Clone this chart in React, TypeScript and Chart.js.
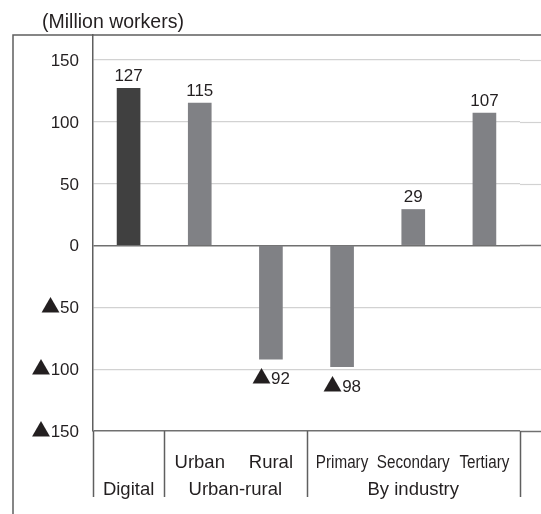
import React, { useEffect, useRef } from 'react';
import { Chart, registerables } from 'chart.js';

Chart.register(...registerables);

const categories = ['Digital', 'Urban', 'Rural', 'Primary', 'Secondary', 'Tertiary'];
const values = [127, 115, -92, -98, 29, 107];
const subLabels = ['', 'Urban', 'Rural', 'Primary', 'Secondary', 'Tertiary'];
const groupLabels = ['Digital', 'Urban-rural', 'By industry'];
const groupSizes = [1, 2, 3];
const yTickValues = [-150, -100, -50, 0, 50, 100, 150];
const yTickLabels = ['▲150', '▲100', '▲50', '0', '50', '100', '150'];
const unitLabel = '(Million workers)';

const FONT = '"Liberation Sans", Arial, Helvetica, sans-serif';
const TRI_FONT = '"Noto Sans CJK JP", "DejaVu Sans", sans-serif';
const TEXT = '#231f20';
const FRAME = '#5f5f5f';
const DARK_LINE = '#707070';
const LIGHT_LINE = '#d2d2d2';

const gridColor = (v: number) => (v === 0 || v === -150 ? DARK_LINE : LIGHT_LINE);
const gridWidth = (v: number) => (v === 0 || v === -150 ? 1.5 : 1.2);
const negLabel = (v: number) => (v < 0 ? '▲' + Math.abs(v) : String(v));

// draws text where the ▲ sign uses a larger full-width glyph
function drawMixed(ctx: CanvasRenderingContext2D, text: string, x: number, y: number, align: 'left' | 'center' | 'right', size: number) {
  const parts: { t: string; f: string }[] = [];
  for (const ch of text) {
    const f = ch === '▲' ? `${size * 1.12}px ${TRI_FONT}` : `${size}px ${FONT}`;
    const last = parts[parts.length - 1];
    if (last && last.f === f) last.t += ch;
    else parts.push({ t: ch, f });
  }
  let total = 0;
  const widths = parts.map((p) => {
    ctx.font = p.f;
    const w = ctx.measureText(p.t).width;
    total += w;
    return w;
  });
  let cx = align === 'left' ? x : align === 'center' ? x - total / 2 : x - total;
  ctx.textAlign = 'left';
  ctx.textBaseline = 'alphabetic';
  parts.forEach((p, i) => {
    ctx.font = p.f;
    ctx.fillText(p.t, cx, y);
    cx += widths[i];
  });
}

const customPlugin = {
  id: 'customDecor',
  beforeDatasetsDraw(chart: any) {
    const ctx = chart.ctx;
    const area = chart.chartArea;
    const ys = chart.scales.y;
    ctx.save();
    yTickValues.forEach((v) => {
      const py = Math.round(ys.getPixelForValue(v)) + 0.5;
      ctx.strokeStyle = gridColor(v);
      ctx.lineWidth = gridWidth(v);
      ctx.beginPath();
      ctx.moveTo(area.right, py);
      ctx.lineTo(chart.width, py);
      ctx.stroke();
    });
    ctx.restore();
  },
  afterDatasetsDraw(chart: any) {
    const ctx = chart.ctx;
    const meta = chart.getDatasetMeta(0);
    ctx.save();
    ctx.fillStyle = TEXT;
    meta.data.forEach((bar: any, i: number) => {
      const v = values[i];
      if (v >= 0) {
        drawMixed(ctx, negLabel(v), bar.x, bar.y - 7, 'center', 17);
      } else {
        drawMixed(ctx, negLabel(v), bar.x, bar.y + 25, 'center', 17);
      }
    });
    ctx.restore();
  },
  afterDraw(chart: any) {
    const ctx = chart.ctx;
    const area = chart.chartArea;
    const xs = chart.scales.x;
    const ys = chart.scales.y;
    ctx.save();
    // outer frame
    ctx.strokeStyle = FRAME;
    ctx.lineWidth = 1.5;
    ctx.beginPath();
    ctx.moveTo(13, chart.height);
    ctx.lineTo(13, area.top);
    ctx.lineTo(chart.width, area.top);
    ctx.stroke();

    // unit label
    ctx.fillStyle = TEXT;
    ctx.font = `19.5px ${FONT}`;
    ctx.textAlign = 'left';
    ctx.textBaseline = 'alphabetic';
    ctx.fillText(unitLabel, 42, 28);

    // y tick labels
    yTickValues.forEach((v, i) => {
      const py = ys.getPixelForValue(v);
      drawMixed(ctx, yTickLabels[i], area.left - 14, py + 6, 'right', 17);
    });

    // category area
    const catW = xs.getPixelForValue(1) - xs.getPixelForValue(0);
    const top = area.bottom;
    const bottom = top + 66;
    const edges: number[] = [xs.left];
    let idx = 0;
    groupSizes.forEach((n) => {
      idx += n;
      edges.push(xs.getPixelForValue(idx - 1) + catW / 2);
    });
    ctx.strokeStyle = FRAME;
    ctx.lineWidth = 1.5;
    edges.forEach((ex) => {
      const px = Math.round(ex) + 0.5;
      ctx.beginPath();
      ctx.moveTo(px, top);
      ctx.lineTo(px, bottom);
      ctx.stroke();
    });

    ctx.fillStyle = TEXT;
    ctx.textAlign = 'center';
    let start = 0;
    groupSizes.forEach((n, g) => {
      const condensed = g === 2;
      for (let k = start; k < start + n; k++) {
        const label = subLabels[k];
        if (!label) continue;
        const cx = xs.getPixelForValue(k);
        if (condensed) {
          ctx.save();
          ctx.font = `17.5px ${FONT}`;
          ctx.translate(cx, top + 37);
          ctx.scale(0.87, 1);
          ctx.fillText(label, 0, 0);
          ctx.restore();
        } else {
          ctx.font = `18.5px ${FONT}`;
          ctx.fillText(label, cx, top + 37);
        }
      }
      ctx.font = `18.5px ${FONT}`;
      const gx = (edges[g] + edges[g + 1]) / 2;
      ctx.fillText(groupLabels[g], gx, top + 64);
      start += n;
    });
    ctx.restore();
  },
};

export default function App() {
  const ref = useRef<HTMLCanvasElement | null>(null);

  useEffect(() => {
    if (!ref.current) return;
    const chart = new Chart(ref.current, {
      type: 'bar',
      data: {
        labels: categories,
        datasets: [
          {
            data: values,
            backgroundColor: categories.map((_, i) => (i === 0 ? '#404040' : '#808185')),
            borderWidth: 0,
            barThickness: 23,
          },
        ],
      },
      options: {
        responsive: false,
        animation: false,
        devicePixelRatio: 1,
        layout: { padding: { top: 35, right: 21, bottom: 83, left: 0 } },
        plugins: {
          legend: { display: false },
          tooltip: { enabled: false },
          title: { display: false },
        },
        scales: {
          x: { display: false },
          y: {
            min: -150,
            max: 170,
            afterBuildTicks: (s: any) => {
              s.ticks = yTickValues.map((v) => ({ value: v }));
            },
            afterFit: (s: any) => {
              s.width = 93;
            },
            grid: {
              drawTicks: false,
              color: (c: any) => gridColor(c.tick ? c.tick.value : 1),
              lineWidth: (c: any) => gridWidth(c.tick ? c.tick.value : 1),
            },
            border: { display: true, color: FRAME, width: 1.5 },
            ticks: { display: false },
          },
        },
      },
      plugins: [customPlugin],
    });
    return () => chart.destroy();
  }, []);

  return (
    <div style={{ position: 'absolute', left: 0, top: 0, width: 541, height: 514, background: '#fff' }}>
      <canvas ref={ref} width={541} height={514} />
    </div>
  );
}
